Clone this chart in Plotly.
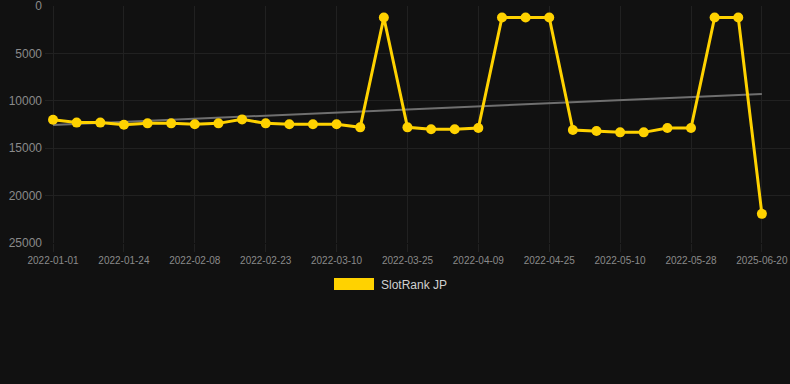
import plotly.graph_objects as go

dates = [
    "2022-01-01", "2022-01-08", "2022-01-16", "2022-01-24", "2022-01-29",
    "2022-02-03", "2022-02-08", "2022-02-13", "2022-02-18", "2022-02-23",
    "2022-02-28", "2022-03-05", "2022-03-10", "2022-03-15", "2022-03-20",
    "2022-03-25", "2022-03-30", "2022-04-04", "2022-04-09", "2022-04-14",
    "2022-04-20", "2022-04-25", "2022-04-30", "2022-05-05", "2022-05-10",
    "2022-05-16", "2022-05-22", "2022-05-28", "2022-06-02", "2022-06-07",
    "2025-06-20",
]
rank = [
    12000, 12300, 12300, 12520, 12380, 12380, 12480, 12380, 11960, 12380,
    12480, 12480, 12480, 12800, 1200, 12800, 13010, 13010, 12870, 1200,
    1200, 1200, 13080, 13190, 13330, 13330, 12870, 12870, 1200, 1200,
    21940,
]
trend_values = [12550, 9280]
y_ticks = [0, 5000, 10000, 15000, 20000, 25000]
x_tick_labels = dates[::3]
series_name = "SlotRank JP"

W, H = 790, 384
ML, MR, MT, MB = 45, 0, 6, 141
BG = "#111111"
GRID = "#212121"
GOLD = "#FFD200"

fig = go.Figure()
fig.add_trace(go.Scatter(
    x=[dates[0], dates[-1]], y=trend_values, mode="lines",
    line=dict(color="#6f6f6f", width=2), showlegend=False, hoverinfo="skip",
))
fig.add_trace(go.Scatter(
    x=dates, y=rank, mode="lines+markers", name=series_name,
    line=dict(color=GOLD, width=3),
    marker=dict(color=GOLD, size=10),
    showlegend=False, cliponaxis=False,
))

pw = W - ML - MR
ph = H - MT - MB
def px_x(p):
    return (p - ML) / pw
def px_y(p):
    return (H - MB - p) / ph

fig.add_shape(type="rect", xref="paper", yref="paper",
              x0=px_x(334), x1=px_x(374), y0=px_y(290), y1=px_y(278),
              fillcolor=GOLD, line=dict(width=0))
fig.add_annotation(xref="paper", yref="paper", x=px_x(379), y=px_y(284.5),
                   xanchor="left", yanchor="middle", showarrow=False,
                   text=series_name, font=dict(size=12, color="#d0d0d0"))

fig.update_layout(
    width=W, height=H,
    margin=dict(l=ML, r=MR, t=MT, b=MB, autoexpand=False),
    paper_bgcolor=BG, plot_bgcolor=BG,
    font=dict(family="Liberation Sans, Arial, sans-serif", color="#8a8a8a"),
    showlegend=False,
)
fig.update_xaxes(
    type="category", categoryorder="array", categoryarray=dates,
    range=[-0.34, 31.19],
    tickmode="array", tickvals=x_tick_labels, ticktext=x_tick_labels,
    tickfont=dict(size=10, color="#8a8a8a"),
    showgrid=True, gridcolor=GRID, gridwidth=1,
    ticks="outside", ticklen=8, tickcolor=GRID,
    zeroline=False, showline=False, ticklabeloverflow="allow",
)
fig.update_yaxes(
    range=[25020, -20], tickmode="array", tickvals=y_ticks,
    ticktext=[str(v) for v in y_ticks],
    tickfont=dict(size=12, color="#8a8a8a"),
    showgrid=True, gridcolor=GRID, gridwidth=1,
    zeroline=False, showline=False, ticks="", ticklabelstandoff=2,
    ticklabeloverflow="allow",
)

fig.write_html(
    "out.html",
    config={"displayModeBar": False},
    post_script="document.body.style.margin='0';document.body.style.background='#111111';",
)
